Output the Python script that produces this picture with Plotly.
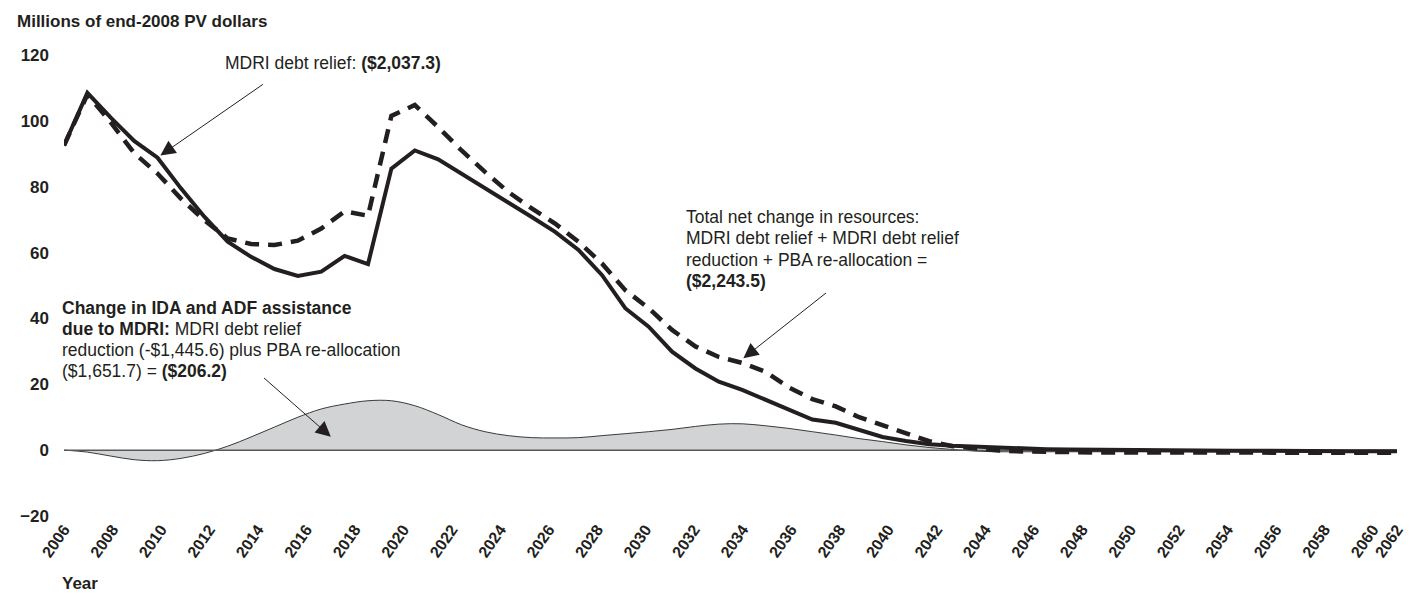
import plotly.graph_objects as go

# ---- data ----
years = list(range(2006, 2064))

mdri_debt_relief = [
    92.5, 108.5, 101.0, 93.9, 88.8, 79.5, 70.9, 63.3, 58.7, 55.0,
    52.9, 54.2, 59.0, 56.5, 85.5, 91.0, 88.3, 84.0, 79.5, 75.1,
    70.8, 66.3, 60.8, 53.2, 43.1, 37.5, 29.9, 24.8, 20.8, 18.3,
    15.3, 12.0, 9.3, 8.3, 6.2, 4.0, 2.8, 1.8, 1.3, 1.0,
    0.8, 0.5, 0.3, 0.2, 0.1, 0.0, -0.1, -0.1, -0.2, -0.2,
    -0.2, -0.2, -0.3, -0.3, -0.3, -0.3, -0.3, -0.3]

total_net_change = [
    92.5, 108.0, 99.5, 90.2, 84.0, 76.4, 69.8, 64.3, 62.6, 62.3,
    63.6, 67.3, 72.5, 71.2, 101.5, 104.8, 98.1, 91.0, 84.5, 78.4,
    73.4, 68.8, 63.3, 56.7, 48.6, 43.1, 36.5, 31.5, 28.3, 26.5,
    23.8, 19.0, 15.5, 13.3, 10.0, 7.5, 5.0, 2.7, 1.2, 0.4,
    -0.1, -0.4, -0.6, -0.7, -0.7, -0.7, -0.7, -0.8, -0.8, -0.8,
    -0.8, -0.8, -0.8, -0.8, -0.8, -0.8, -0.8, -0.8]

change_ida_adf = [
    0.0, -0.6, -1.8, -2.9, -3.2, -2.5, -1.0, 1.2, 4.0, 7.0,
    10.0, 12.5, 14.0, 15.0, 15.0, 13.5, 10.8, 7.7, 5.6, 4.4,
    3.8, 3.7, 3.8, 4.4, 5.0, 5.6, 6.3, 7.2, 7.9, 8.0,
    7.4, 6.6, 5.6, 4.6, 3.5, 2.6, 1.6, 0.8, 0.2, -0.3,
    -0.5, -0.5, -0.5, -0.5, -0.5, -0.5, -0.5, -0.5, -0.5, -0.5,
    -0.5, -0.5, -0.5, -0.5, -0.5, -0.5, -0.5, -0.5]

tick_labels = [str(y) for y in range(2006, 2061, 2)] + ["2062"]
y_ticks = [-20, 0, 20, 40, 60, 80, 100, 120]

# ---- layout geometry (page pixels; the page body adds an 8px offset) ----
OFF = 8
W, H = 1425 - OFF, 595 - OFF
L, T = 53 - OFF, 54.5 - OFF
R, B = 28, 78.5
PW, PH = W - L - R, H - T - B
INK = "#231f20"
FONT = "Liberation Sans, Arial, sans-serif"

# the label axis of the source is spaced on 56 categories while the series use 58
span = years[-1] - years[0]
label_pos = [years[0] + min(int(t) - years[0], 55) * span / 55 for t in tick_labels]


def px(xpix):
    return (xpix - OFF - 4 - L) / PW


def py(ypix):
    return (T + PH - (ypix - OFF)) / PH


fig = go.Figure()

fig.add_trace(go.Scatter(
    x=years, y=change_ida_adf, mode="lines", line=dict(color="#3a3a3a", width=1, shape="spline", smoothing=1),
    fill="tozeroy", fillcolor="#d1d3d4", cliponaxis=False, hoverinfo="skip", showlegend=False))

fig.add_trace(go.Scatter(
    x=[years[0], years[-1]], y=[0, 0], mode="lines", line=dict(color="#58595b", width=1.5),
    cliponaxis=False, hoverinfo="skip", showlegend=False))

fig.add_trace(go.Scatter(
    x=years, y=total_net_change, mode="lines", line=dict(color=INK, width=4.5, dash="14px,9px"),
    cliponaxis=False, showlegend=False))

fig.add_trace(go.Scatter(
    x=years, y=mdri_debt_relief, mode="lines", line=dict(color=INK, width=4),
    cliponaxis=False, showlegend=False))

annotations = []


def text(xpix, ypix, s, size=17.5, bold=False):
    annotations.append(dict(
        x=px(xpix), y=py(ypix), xref="paper", yref="paper", text=s, showarrow=False,
        xanchor="left", yanchor="middle", align="left",
        font=dict(family=FONT, size=size, color=INK, weight="bold" if bold else "normal")))


text(8, 20.5, "Millions of end-2008 PV dollars", size=17, bold=True)
text(53, 584, "Year", size=17, bold=True)
text(217, 62.5, "MDRI debt relief: <b>($2,037.3)</b>")
text(53, 308, "<b>Change in IDA and ADF assistance</b>")
text(53, 329, "<b>due to MDRI:</b> MDRI debt relief")
text(53, 350, "reduction (-$1,445.6) plus PBA re-allocation")
text(53, 371.5, "($1,651.7) = <b>($206.2)</b>")
text(682, 216.7, "Total net change in resources:")
text(682, 238.3, "MDRI debt relief + MDRI debt relief")
text(682, 259.5, "reduction + PBA re-allocation =")
text(682, 280.5, "<b>($2,243.5)</b>")


def arrow(tip, tail):
    annotations.append(dict(
        x=tip[0], y=tip[1], xref="x", yref="y", ax=tail[0], ay=tail[1], axref="x", ayref="y",
        text="", showarrow=True, arrowhead=2, arrowsize=3, arrowwidth=1, arrowcolor=INK))


arrow((2010.12, 89.5), (2014.57, 111.4))
arrow((2017.41, 4.1), (2014.49, 22.3))
arrow((2035.05, 27.9), (2038.65, 48.1))

fig.update_layout(
    width=W, height=H,
    margin=dict(l=L, r=R, t=T, b=B, pad=0),
    paper_bgcolor="white", plot_bgcolor="white",
    showlegend=False,
    annotations=annotations,
    xaxis=dict(
        range=[years[0], years[-1]], tickmode="array", tickvals=label_pos, ticktext=tick_labels,
        tickangle=-55, showgrid=False, zeroline=False, showline=False, ticks="",
        tickfont=dict(family=FONT, size=16, color=INK, weight="bold")),
    yaxis=dict(
        range=[-20, 120], tickmode="array", tickvals=y_ticks, showgrid=False, zeroline=False,
        showline=False, ticks="", ticklabelstandoff=14,
        tickfont=dict(family=FONT, size=17, color=INK, weight="bold")),
)

fig.write_html("out.html")
